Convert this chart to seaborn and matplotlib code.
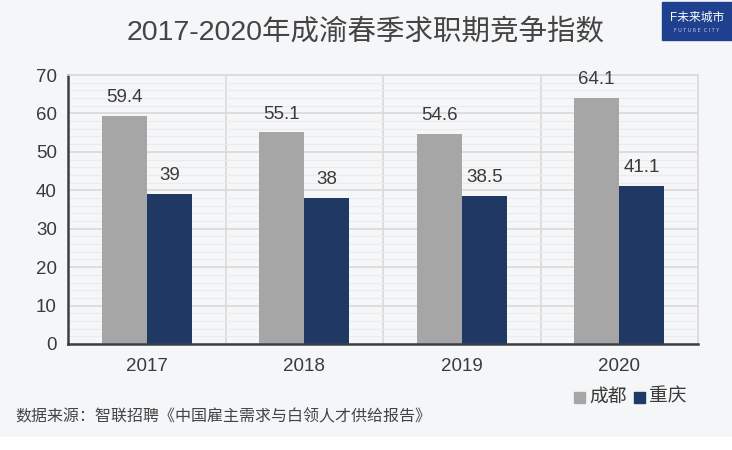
import pandas as pd
import matplotlib.pyplot as plt
import seaborn as sns
from matplotlib.ticker import MultipleLocator
from matplotlib.patches import Rectangle

years = ['2017', '2018', '2019', '2020']
chengdu = [59.4, 55.1, 54.6, 64.1]
chongqing = [39, 38, 38.5, 41.1]
labels_cd = ['59.4', '55.1', '54.6', '64.1']
labels_cq = ['39', '38', '38.5', '41.1']

df = pd.DataFrame({
    'year': years * 2,
    'value': chengdu + chongqing,
    'city': ['成都'] * 4 + ['重庆'] * 4,
})

sns.set_style('white')
plt.rcParams['font.family'] = ['Liberation Sans', 'Noto Sans CJK SC', 'DejaVu Sans']

txt = '#3a3a3a'
bg = '#f5f6f8'
fig = plt.figure(figsize=(7.32, 4.5), dpi=100, facecolor=bg)
ax = fig.add_axes([68 / 732, 1 - 344 / 450, 630 / 732, 269 / 450])
ax.set_facecolor(bg)

sns.barplot(data=df, x='year', y='value', hue='city', palette=['#a6a6a6', '#1f3864'],
            width=0.572, saturation=1, linewidth=0, ax=ax, legend=False)

ax.set_ylim(0, 70)
ax.set_xlim(-0.5, 3.5)
ax.yaxis.set_major_locator(MultipleLocator(10))
ax.yaxis.set_minor_locator(MultipleLocator(2))
ax.grid(axis='y', which='major', color='#d9d9d9', linewidth=1.2, zorder=0)
ax.grid(axis='y', which='minor', color='#ebebeb', linewidth=0.8, zorder=0)
ax.set_axisbelow(True)
for xv in [0.5, 1.5, 2.5]:
    ax.axvline(xv, color='#d9d9d9', linewidth=1.2, zorder=0)

for s in ['top', 'right']:
    ax.spines[s].set_color('#d9d9d9')
    ax.spines[s].set_linewidth(1.2)
for s in ['left', 'bottom']:
    ax.spines[s].set_color('#3a3f47')
    ax.spines[s].set_linewidth(1.8)

ax.tick_params(axis='both', which='both', length=0, labelsize=13.5, colors=txt, pad=8)
ax.tick_params(axis='x', pad=10)
ax.set_xlabel('')
ax.set_ylabel('')

ax.bar_label(ax.containers[0], labels=labels_cd, padding=7, fontsize=13.5, color=txt)
ax.bar_label(ax.containers[1], labels=labels_cq, padding=7, fontsize=13.5, color=txt)

fig.text(0.5, 1 - 32 / 450, '2017-2020年成渝春季求职期竞争指数', ha='center', va='center',
         fontsize=20.5, color='#444444')

# legend
fig.patches.append(Rectangle((574 / 732, 1 - 403 / 450), 11 / 732, 11 / 450,
                             transform=fig.transFigure, color='#a6a6a6'))
fig.text(589 / 732, 1 - 397 / 450, '成都', va='center', fontsize=13.5, color=txt)
fig.patches.append(Rectangle((634 / 732, 1 - 403 / 450), 11 / 732, 11 / 450,
                             transform=fig.transFigure, color='#1f3864'))
fig.text(649 / 732, 1 - 397 / 450, '重庆', va='center', fontsize=13.5, color=txt)

fig.text(15 / 732, 1 - 417 / 450, '数据来源：智联招聘《中国雇主需求与白领人才供给报告》',
         va='center', fontsize=11.5, color='#444444')

# white strip at bottom
fig.patches.append(Rectangle((0, 0), 1, 13 / 450, transform=fig.transFigure, color='white'))

# logo
fig.patches.append(Rectangle((662 / 732, 1 - 40 / 450), 70 / 732, 38 / 450,
                             transform=fig.transFigure, color='#1f3f8f'))
fig.text(697 / 732, 1 - 18 / 450, 'F未来城市', ha='center', va='center', fontsize=8.5,
         color='white')
fig.text(697 / 732, 1 - 31 / 450, 'F U T U R E  C I T Y', ha='center', va='center',
         fontsize=3.5, color='#c8d0e8', family=['DejaVu Sans'])

fig.savefig('out.png', dpi=100, facecolor=bg)
